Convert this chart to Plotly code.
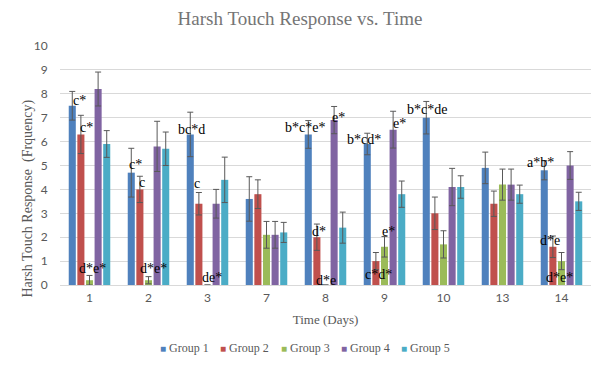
import plotly.graph_objects as go

days = ["1", "2", "3", "7", "8", "9", "10", "13", "14"]
groups = ["Group 1", "Group 2", "Group 3", "Group 4", "Group 5"]
colors = ["#4F81BD", "#C0504D", "#9BBB59", "#8064A2", "#4BACC6"]

g1 = [7.5, 4.7, 6.3, 3.6, 6.3, 5.9, 7.0, 4.9, 4.8]
g2 = [6.3, 4.0, 3.4, 3.8, 2.0, 1.0, 3.0, 3.4, 1.6]
g3 = [0.2, 0.2, 0.0, 2.1, 0.0, 1.6, 1.7, 4.2, 1.0]
g4 = [8.2, 5.8, 3.4, 2.1, 6.9, 6.5, 4.1, 4.2, 5.0]
g5 = [5.9, 5.7, 4.4, 2.2, 2.4, 3.8, 4.1, 3.8, 3.5]

e1 = [0.6, 1.02, 0.93, 0.93, 0.58, 0.45, 0.68, 0.66, 0.4]
e2 = [0.8, 0.55, 0.47, 0.6, 0.55, 0.36, 0.68, 0.53, 0.45]
e3 = [0.2, 0.15, 0.0, 0.56, 0.0, 0.43, 0.57, 0.65, 0.36]
e4 = [0.71, 1.05, 0.6, 0.56, 0.57, 0.77, 0.78, 0.65, 0.58]
e5 = [0.56, 0.7, 0.95, 0.42, 0.65, 0.55, 0.47, 0.38, 0.38]

values = [g1, g2, g3, g4, g5]
errors = [e1, e2, e3, e4, e5]

# significance labels: (day, text, y value, x pixel shift)
sig_days = ["1", "1", "1", "2", "2", "2", "3", "3", "3", "8", "8", "8", "8",
            "9", "9", "9", "9", "10", "14", "14", "14"]
sig_text = ["c*", "c*", "d*e*", "c*", "c", "d*e*", "bc*d", "c", "de*",
            "b*c*e*", "e*", "d*", "d*e", "b*cd*", "e*", "e*", "c*d*",
            "b*c*de", "a*b*", "d*e", "d*e*"]
sig_y = [7.74, 6.6, 0.71, 5.03, 4.29, 0.71, 6.52, 4.23, 0.33,
         6.59, 7.02, 2.23, 0.2, 6.1, 6.77, 2.24, 0.43,
         7.33, 5.12, 1.87, 0.33]
sig_dx = [-10, -3, 3, -13, -7, 5, -16, -11, 4,
          -21, 13, -7, 0, -21, 15, 4, -6,
          -17, -21, -12, -2]

fig = go.Figure()
for name, vals, errs, col in zip(groups, values, errors, colors):
    fig.add_trace(go.Bar(
        x=days, y=vals, name=name, marker_color=col,
        marker_line_width=0, showlegend=False,
        error_y=dict(type="data", array=errs, visible=True,
                     color="#595959", thickness=1, width=3),
    ))

for d, t, yv, dx in zip(sig_days, sig_text, sig_y, sig_dx):
    fig.add_annotation(x=days.index(d), y=yv, text=t, showarrow=False, xshift=dx,
                       xanchor="center", yanchor="middle",
                       font=dict(family="Liberation Serif", size=14, color="#000000"))

# compact legend row (Excel style) built from the group names and colours
legend_x = [184, 244.5, 305, 365, 425.5]
for name, col, lx in zip(groups, colors, legend_x):
    fig.add_annotation(xref="paper", yref="paper",
                       x=(lx - 60) / 531, y=(285 - 360) / 285,
                       xanchor="center", yanchor="middle", showarrow=False,
                       text=f"<span style='color:{col};font-size:10px'>■</span> {name}",
                       font=dict(family="Liberation Serif", size=12, color="#595959"))

# y-axis title
fig.add_annotation(xref="paper", yref="paper",
                   x=(28 - 60) / 531, y=(285 - 182) / 285,
                   xanchor="center", yanchor="middle", showarrow=False,
                   textangle=-90, text="Harsh Touch Response  (Frquency)",
                   font=dict(family="Liberation Serif", size=14, color="#595959"))

fig.update_layout(
    width=600, height=376,
    paper_bgcolor="white", plot_bgcolor="white",
    margin=dict(l=60, r=9, t=46, b=91),
    barmode="group", bargap=0.27, bargroupgap=0.18,
    title=dict(text="Harsh Touch Response vs. Time", x=0.5, xanchor="center",
               y=0.952, yanchor="middle",
               font=dict(family="Liberation Serif", size=19, color="#757575")),
    font=dict(family="Lato", size=11, color="#595959"),
    showlegend=False,
)
fig.update_yaxes(range=[0, 10], dtick=1, showgrid=True, gridcolor="#D9D9D9",
                 gridwidth=1, zeroline=False, showline=False,
                 ticks="outside", ticklen=9, tickcolor="rgba(0,0,0,0)",
                 automargin=False,
                 tickfont=dict(family="Lato", size=12, color="#595959"))
fig.update_xaxes(type="category", range=[-0.5, len(days) - 0.5],
                 automargin=False,
                 ticks="outside", ticklen=2, tickcolor="rgba(0,0,0,0)",
                 showline=True, linecolor="#D9D9D9", linewidth=1,
                 tickfont=dict(family="Lato", size=12, color="#595959"),
                 title=dict(text="Time (Days)", standoff=10,
                            font=dict(family="Liberation Serif", size=13, color="#595959")))

fig.write_html("out.html", config={"displayModeBar": False},
               post_script="document.body.style.margin='0';")
